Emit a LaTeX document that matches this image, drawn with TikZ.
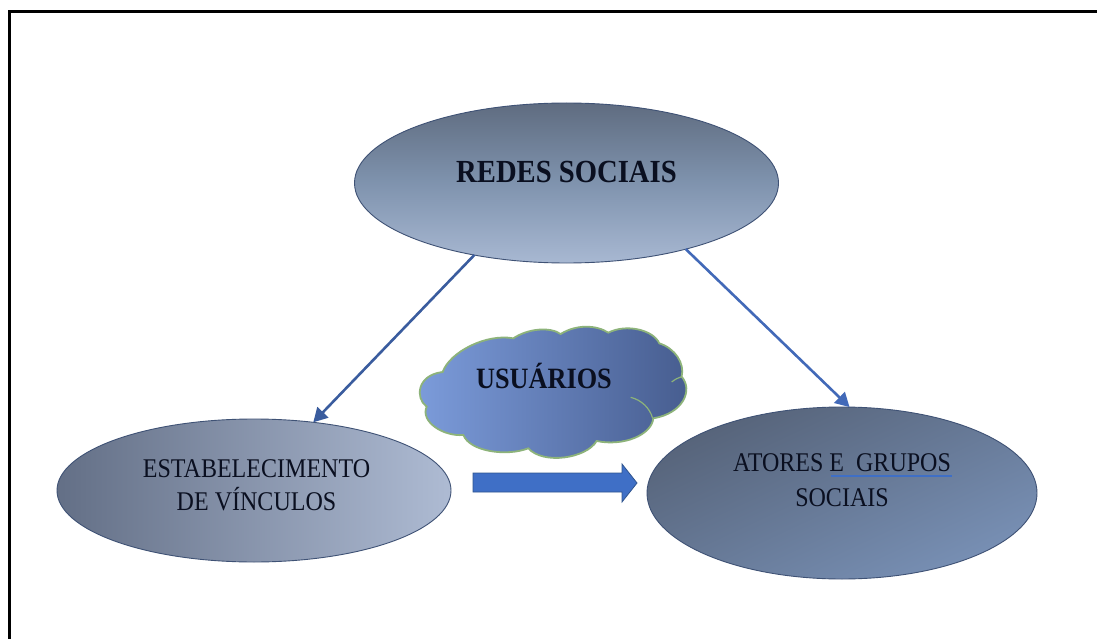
\documentclass[tikz,border=0pt]{standalone}
\usepackage{fontspec}
\setmainfont{Liberation Serif}
\newfontfamily\condfont[FakeStretch=0.89]{Liberation Serif}
\usetikzlibrary{shapes.geometric,arrows.meta}
\definecolor{inkc}{HTML}{0A0F20}
\definecolor{edgec}{HTML}{3F5275}
\definecolor{atop}{HTML}{5F6C80}
\definecolor{amid}{HTML}{7F93AE}
\definecolor{abot}{HTML}{A8B8D2}
\definecolor{bleft}{HTML}{636F86}
\definecolor{bright}{HTML}{AEBBD3}
\definecolor{cdark}{HTML}{566379}
\definecolor{clight}{HTML}{7890B5}
\definecolor{cloudl}{HTML}{7C9CDB}
\definecolor{cloudm}{HTML}{6583BD}
\definecolor{cloudr}{HTML}{465C8E}
\definecolor{cloude}{HTML}{8DB37A}
\definecolor{linkl}{HTML}{3A5C9E}
\definecolor{linkr}{HTML}{4269B8}
\definecolor{blockf}{HTML}{3F6FC6}
\definecolor{blocke}{HTML}{30558F}
\tikzset{
  oval/.style={ellipse,draw=edgec,line width=0.9pt,inner sep=0pt,outer sep=0pt},
  reg/.style={font=\condfont\fontsize{27}{27}\selectfont,text=inkc,anchor=base,inner sep=0pt},
  strong/.style={font=\condfont\bfseries\fontsize{32.2}{32.2}\selectfont,text=inkc,anchor=base,inner sep=0pt},
  strongb/.style={font=\condfont\bfseries\fontsize{29.5}{29.5}\selectfont,text=inkc,anchor=base,inner sep=0pt},
  link/.style={line width=2.6pt,-{Triangle[length=14pt,width=15pt]}}
}
\begin{document}
\begin{tikzpicture}[x=1pt,y=-1pt]
\useasboundingbox (0,0) rectangle (1097,639);
\fill[white] (0,0) rectangle (1097,639);
\draw[line width=3pt,black,line cap=butt,line join=miter] (1097,11.5) -- (9.5,11.5) -- (9.5,639);

\node[oval,minimum width=424pt,minimum height=160pt,top color=atop,bottom color=abot,middle color=amid] (redes) at (566.5,183) {};
\node[oval,minimum width=394pt,minimum height=143pt,left color=bleft,right color=bright] (vinculos) at (254,490.5) {};
\node[oval,minimum width=390pt,minimum height=172pt,top color=cdark,bottom color=clight,shading angle=25] (atores) at (842,493) {};

\draw[link,color=linkl] (redes.218.7) -- (vinculos.49);
\draw[link,color=linkr] (redes.331.1) -- (atores.85.5);

\begin{scope}[shift={(400,310)},x=0.3333pt,y=-0.3333pt]
\draw[draw=cloude,line width=1.8pt,left color=cloudl,middle color=cloudm,right color=cloudr]
  (128,186)
  .. controls (150,125) and (260,70) .. (340,85)
  .. controls (385,55) and (450,50) .. (482,72)
  .. controls (530,42) and (590,45) .. (625,68)
  .. controls (680,40) and (760,60) .. (778,100)
  .. controls (825,115) and (855,160) .. (845,200)
  .. controls (880,240) and (850,310) .. (760,325)
  .. controls (755,375) and (670,410) .. (590,393)
  .. controls (560,445) and (430,465) .. (385,415)
  .. controls (320,440) and (210,425) .. (190,375)
  .. controls (130,380) and (60,335) .. (80,290)
  .. controls (45,265) and (50,195) .. (128,186)
  -- cycle;
\draw[draw=cloude,line width=1.2pt] (692,262) .. controls (725,270) and (750,295) .. (758,325);
\draw[draw=cloude,line width=1.2pt] (815,216) .. controls (825,208) and (835,203) .. (845,200);
\end{scope}

\draw[draw=blocke,fill=blockf,line width=0.8pt,line join=miter] (473,473) -- (622,473) -- (622,464) -- (637,483) -- (622,502) -- (622,492) -- (473,492) -- cycle;

\node[strong] (t1) at (566.5,183) {REDES SOCIAIS};
\node[strongb] (t2) at (544,388) {USUÁRIOS};
\node[reg] (t3) at (256.5,477) {ESTABELECIMENTO};
\node[reg] (t4) at (256.5,510.5) {DE VÍNCULOS};
\node[reg] (t5) at (842,471) {ATORES E\ \ GRUPOS};
\node[reg] (t6) at (842,506) {SOCIAIS};
\coordinate (u1) at (831,476);
\coordinate (u2) at (952,476);
\draw[line width=2.4pt,color=blockf] (u1) -- (u2);
\end{tikzpicture}
\end{document}
